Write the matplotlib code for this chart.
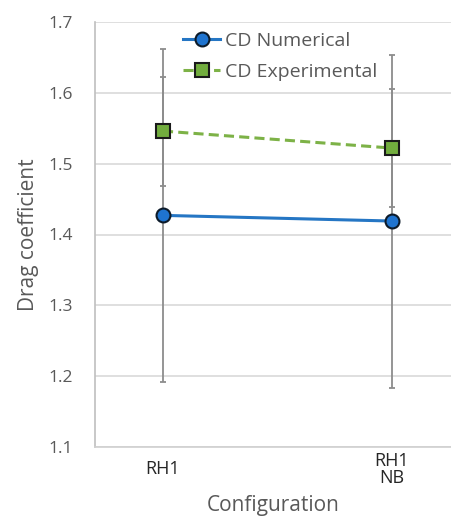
import matplotlib.pyplot as plt
import numpy as np

plt.rcParams['font.family'] = ['Open Sans', 'DejaVu Sans']

configs = ['RH1', 'RH1\nNB']
cd_num = [1.427, 1.419]
cd_num_err = [0.235, 0.235]
cd_exp = [1.546, 1.522]
cd_exp_err = [0.077, 0.083]
yticks = [1.1, 1.2, 1.3, 1.4, 1.5, 1.6, 1.7]

x = np.arange(len(configs))

fig = plt.figure(figsize=(4.52, 5.16), dpi=100)
ax = fig.add_axes([95/452, 1 - 447/516, 357/452, (447-22)/516])

# error bars first (grey, behind markers)
ax.errorbar(x, cd_num, yerr=cd_num_err, fmt='none', ecolor='#8c8c8c',
            elinewidth=1.3, capsize=2.5, capthick=1.3, zorder=2)
ax.errorbar(x, cd_exp, yerr=cd_exp_err, fmt='none', ecolor='#8c8c8c',
            elinewidth=1.3, capsize=2.5, capthick=1.3, zorder=2)

ax.plot(x, cd_num, color='#2576C4', lw=2.2, marker='o', markersize=10,
        markerfacecolor='#1F74D0', markeredgecolor='#0d1b2a', markeredgewidth=1.5,
        label='CD Numerical', zorder=4)
ax.plot(x, cd_exp, color='#7DB247', lw=2.2, ls=(0, (3.3, 1.7)), marker='s', markersize=9.5,
        markerfacecolor='#72AD3E', markeredgecolor='#1a1a1a', markeredgewidth=1.5,
        label='CD Experimental', zorder=4)

ax.set_xlim(-0.297, 1.262)
ax.set_ylim(1.1, 1.7)
ax.set_yticks(yticks)
ax.set_yticklabels([f'{v:.1f}' for v in yticks])
ax.set_xticks(x)
ax.set_xticklabels(configs, fontsize=13, color='#262626', linespacing=0.9, va='center')

ax.yaxis.grid(True, color='#d9d9d9', lw=1.2)
ax.set_axisbelow(True)
for s in ['top', 'right']:
    ax.spines[s].set_visible(False)
ax.spines['left'].set_color('#bfbfbf')
ax.spines['bottom'].set_color('#d0d0d0')
ax.spines['left'].set_linewidth(1.2)
ax.spines['bottom'].set_linewidth(1.2)
ax.tick_params(axis='both', length=0)
ax.tick_params(axis='y', labelsize=12.5, labelcolor='#595959', pad=16)
ax.tick_params(axis='x', pad=16)

ax.set_ylabel('Drag coefficient', fontsize=15, color='#595959', labelpad=7)
ax.set_xlabel('Configuration', fontsize=15, color='#595959', labelpad=6)

ax.legend(loc='upper left', bbox_to_anchor=(0.225, 0.995), frameon=False,
          fontsize=14, labelcolor='#595959', handlelength=1.9, handletextpad=0.25,
          labelspacing=0.68, borderaxespad=0)

fig.savefig('out.png', dpi=100)
